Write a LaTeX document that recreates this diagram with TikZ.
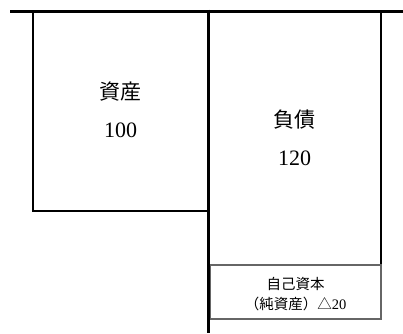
\documentclass[tikz,border=0pt]{standalone}
\usepackage{fontspec}
\setmainfont{Liberation Serif}
\newfontfamily\cjk{Noto Sans CJK JP}
\tikzset{
  bigj/.style={font=\fontsize{21}{23}\selectfont\cjk, inner sep=0pt},
  bign/.style={font=\fontsize{22}{24}\selectfont, inner sep=0pt},
  small/.style={font=\fontsize{14.5}{19.5}\selectfont, inner sep=0pt, align=center},
  boxline/.style={line width=2pt, black},
  thick line/.style={line width=3pt, black},
  eqline/.style={line width=1.5pt, black!60}
}
\begin{document}
\begin{tikzpicture}[x=1pt,y=-1pt]
\useasboundingbox (0,0) rectangle (403,333);
% asset box
\draw[boxline] (33,11) rectangle (208,211);
% liabilities box
\draw[boxline] (208,11) -- (381,11) -- (381,265);
% equity box
\draw[eqline] (210.5,265) rectangle (381,319);
% top line
\draw[thick line] (10,11) -- (403,11);
% center vertical
\draw[thick line] (208.5,9.5) -- (208.5,333);
% texts
\node[bigj] (asset) at (120.5,92) {資産};
\node[bign] (assetv) at (120.5,130) {100};
\node[bigj] (liab) at (294.5,120) {負債};
\node[bign] (liabv) at (294.5,158) {120};
\node[small] (eq) at (295.5,294) {{\cjk 自己資本}\\{\cjk （純資産）△}20};
\end{tikzpicture}
\end{document}
